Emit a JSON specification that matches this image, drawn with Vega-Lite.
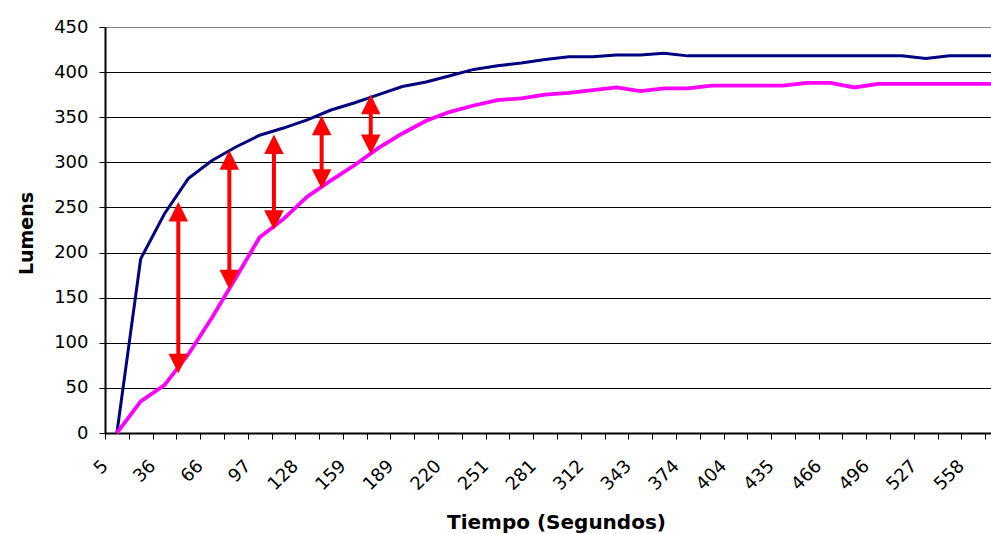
{
  "$schema": "https://vega.github.io/schema/vega-lite/v6.json",
  "autosize": {"type": "none"},
  "padding": {"left": 105, "top": 27, "right": 0, "bottom": 101},
  "width": 886,
  "height": 406,
  "background": "white",
  "config": {"view": {"stroke": null}, "font": "DejaVu Sans"},
  "datasets": {
    "series": [
      {"t": 5, "serie": "Serie 1", "lumens": 0},
      {"t": 20, "serie": "Serie 1", "lumens": 193},
      {"t": 36, "serie": "Serie 1", "lumens": 243},
      {"t": 51, "serie": "Serie 1", "lumens": 282},
      {"t": 66, "serie": "Serie 1", "lumens": 302},
      {"t": 82, "serie": "Serie 1", "lumens": 317},
      {"t": 97, "serie": "Serie 1", "lumens": 330},
      {"t": 112, "serie": "Serie 1", "lumens": 338},
      {"t": 128, "serie": "Serie 1", "lumens": 347},
      {"t": 143, "serie": "Serie 1", "lumens": 358},
      {"t": 159, "serie": "Serie 1", "lumens": 366},
      {"t": 174, "serie": "Serie 1", "lumens": 375},
      {"t": 189, "serie": "Serie 1", "lumens": 384},
      {"t": 205, "serie": "Serie 1", "lumens": 389},
      {"t": 220, "serie": "Serie 1", "lumens": 396},
      {"t": 235, "serie": "Serie 1", "lumens": 403},
      {"t": 251, "serie": "Serie 1", "lumens": 407},
      {"t": 266, "serie": "Serie 1", "lumens": 410},
      {"t": 281, "serie": "Serie 1", "lumens": 414},
      {"t": 297, "serie": "Serie 1", "lumens": 417},
      {"t": 312, "serie": "Serie 1", "lumens": 417},
      {"t": 327, "serie": "Serie 1", "lumens": 419},
      {"t": 343, "serie": "Serie 1", "lumens": 419},
      {"t": 358, "serie": "Serie 1", "lumens": 421},
      {"t": 374, "serie": "Serie 1", "lumens": 418},
      {"t": 389, "serie": "Serie 1", "lumens": 418},
      {"t": 404, "serie": "Serie 1", "lumens": 418},
      {"t": 420, "serie": "Serie 1", "lumens": 418},
      {"t": 435, "serie": "Serie 1", "lumens": 418},
      {"t": 450, "serie": "Serie 1", "lumens": 418},
      {"t": 466, "serie": "Serie 1", "lumens": 418},
      {"t": 481, "serie": "Serie 1", "lumens": 418},
      {"t": 496, "serie": "Serie 1", "lumens": 418},
      {"t": 512, "serie": "Serie 1", "lumens": 418},
      {"t": 527, "serie": "Serie 1", "lumens": 415},
      {"t": 542, "serie": "Serie 1", "lumens": 418},
      {"t": 558, "serie": "Serie 1", "lumens": 418},
      {"t": 573, "serie": "Serie 1", "lumens": 418},
      {"t": 5, "serie": "Serie 2", "lumens": 0},
      {"t": 20, "serie": "Serie 2", "lumens": 35},
      {"t": 36, "serie": "Serie 2", "lumens": 53},
      {"t": 51, "serie": "Serie 2", "lumens": 87},
      {"t": 66, "serie": "Serie 2", "lumens": 128},
      {"t": 82, "serie": "Serie 2", "lumens": 172},
      {"t": 97, "serie": "Serie 2", "lumens": 217},
      {"t": 112, "serie": "Serie 2", "lumens": 237},
      {"t": 128, "serie": "Serie 2", "lumens": 262},
      {"t": 143, "serie": "Serie 2", "lumens": 280},
      {"t": 159, "serie": "Serie 2", "lumens": 297},
      {"t": 174, "serie": "Serie 2", "lumens": 316},
      {"t": 189, "serie": "Serie 2", "lumens": 332},
      {"t": 205, "serie": "Serie 2", "lumens": 346},
      {"t": 220, "serie": "Serie 2", "lumens": 356},
      {"t": 235, "serie": "Serie 2", "lumens": 363},
      {"t": 251, "serie": "Serie 2", "lumens": 369},
      {"t": 266, "serie": "Serie 2", "lumens": 371},
      {"t": 281, "serie": "Serie 2", "lumens": 375},
      {"t": 297, "serie": "Serie 2", "lumens": 377},
      {"t": 312, "serie": "Serie 2", "lumens": 380},
      {"t": 327, "serie": "Serie 2", "lumens": 383},
      {"t": 343, "serie": "Serie 2", "lumens": 379},
      {"t": 358, "serie": "Serie 2", "lumens": 382},
      {"t": 374, "serie": "Serie 2", "lumens": 382},
      {"t": 389, "serie": "Serie 2", "lumens": 385},
      {"t": 404, "serie": "Serie 2", "lumens": 385},
      {"t": 420, "serie": "Serie 2", "lumens": 385},
      {"t": 435, "serie": "Serie 2", "lumens": 385},
      {"t": 450, "serie": "Serie 2", "lumens": 388},
      {"t": 466, "serie": "Serie 2", "lumens": 388},
      {"t": 481, "serie": "Serie 2", "lumens": 383},
      {"t": 496, "serie": "Serie 2", "lumens": 387},
      {"t": 512, "serie": "Serie 2", "lumens": 387},
      {"t": 527, "serie": "Serie 2", "lumens": 387},
      {"t": 542, "serie": "Serie 2", "lumens": 387},
      {"t": 558, "serie": "Serie 2", "lumens": 387},
      {"t": 573, "serie": "Serie 2", "lumens": 387}
    ],
    "arrows": [
      {"t": 44.65, "top": 245.3, "bottom": 76.9},
      {"t": 77.6, "top": 302.7, "bottom": 170.2},
      {"t": 106.4, "top": 320, "bottom": 236.2},
      {"t": 137.2, "top": 340.9, "bottom": 281.4},
      {"t": 168.9, "top": 364, "bottom": 320}
    ]
  },
  "layer": [
    {
      "data": {"name": "series"},
      "mark": {"type": "line", "strokeJoin": "miter"},
      "encoding": {
        "x": {
          "field": "t",
          "type": "ordinal",
          "scale": {"type": "point", "range": [0, 904], "padding": 0.5},
          "axis": {
            "title": "Tiempo (Segundos)",
            "titleFont": "DejaVu Sans",
            "titleFontWeight": "bold",
            "titleFontSize": 20,
            "titleColor": "#000000",
            "titleX": 451,
            "titleY": 95,
            "titleAlign": "center",
            "titleBaseline": "alphabetic",
            "tickOffset": -11.895,
            "tickSize": 6,
            "tickColor": "#000000",
            "tickWidth": 1,
            "domainColor": "#000000",
            "domainWidth": 2,
            "grid": false,
            "labelAngle": -45,
            "labelAlign": "right",
            "labelBaseline": "middle",
            "labelPadding": 24,
            "labelOverlap": false,
            "labelFont": "DejaVu Sans",
            "labelFontSize": 18,
            "labelColor": "#000000",
            "labelExpr": "(datum.value == 5 || datum.value == 36 || datum.value == 66 || datum.value == 97 || datum.value == 128 || datum.value == 159 || datum.value == 189 || datum.value == 220 || datum.value == 251 || datum.value == 281 || datum.value == 312 || datum.value == 343 || datum.value == 374 || datum.value == 404 || datum.value == 435 || datum.value == 466 || datum.value == 496 || datum.value == 527 || datum.value == 558) ? datum.label : ''"
          }
        },
        "y": {
          "field": "lumens",
          "type": "quantitative",
          "scale": {"domain": [0, 450], "nice": false, "zero": true},
          "axis": {
            "values": [0, 50, 100, 150, 200, 250, 300, 350, 400, 450],
            "title": "Lumens",
            "titleFont": "DejaVu Sans",
            "titleFontWeight": "bold",
            "titleFontSize": 19,
            "titleColor": "#000000",
            "titleX": -73,
            "titleY": 206,
            "titleAngle": -90,
            "titleAlign": "center",
            "titleBaseline": "alphabetic",
            "grid": true,
            "gridColor": {"condition": {"test": "datum.value == 450", "value": "#808080"}, "value": "#000000"},
            "gridWidth": 1,
            "domainColor": "#000000",
            "domainWidth": 2,
            "tickColor": "#000000",
            "tickSize": 6,
            "tickWidth": 1,
            "labelFont": "DejaVu Sans",
            "labelFontSize": 18,
            "labelColor": "#000000",
            "labelPadding": 11
          }
        },
        "color": {
          "field": "serie",
          "type": "nominal",
          "scale": {"domain": ["Serie 1", "Serie 2"], "range": ["#000080", "#FF00FF"]},
          "legend": null
        },
        "strokeWidth": {
          "field": "serie",
          "type": "nominal",
          "scale": {"domain": ["Serie 1", "Serie 2"], "range": [3, 3.8]},
          "legend": null
        }
      }
    },
    {
      "data": {"name": "arrows"},
      "encoding": {
        "x": {
          "field": "t",
          "type": "quantitative",
          "scale": {"domain": [-2.68, 569.38], "nice": false, "zero": false},
          "axis": null
        }
      },
      "layer": [
        {
          "mark": {"type": "rule", "color": "#FF0000", "strokeWidth": 4},
          "encoding": {
            "y": {"field": "bottom", "type": "quantitative"},
            "y2": {"field": "top"}
          }
        },
        {
          "mark": {"type": "point", "shape": "M0,-1L1,1L-1,1Z", "filled": true, "color": "#FF0000", "size": 380, "opacity": 1, "strokeWidth": 0},
          "encoding": {
            "y": {"field": "top", "type": "quantitative"}
          }
        },
        {
          "mark": {"type": "point", "shape": "M0,1L1,-1L-1,-1Z", "filled": true, "color": "#FF0000", "size": 380, "opacity": 1, "strokeWidth": 0},
          "encoding": {
            "y": {"field": "bottom", "type": "quantitative"}
          }
        }
      ]
    }
  ],
  "resolve": {"scale": {"x": "independent"}}
}
